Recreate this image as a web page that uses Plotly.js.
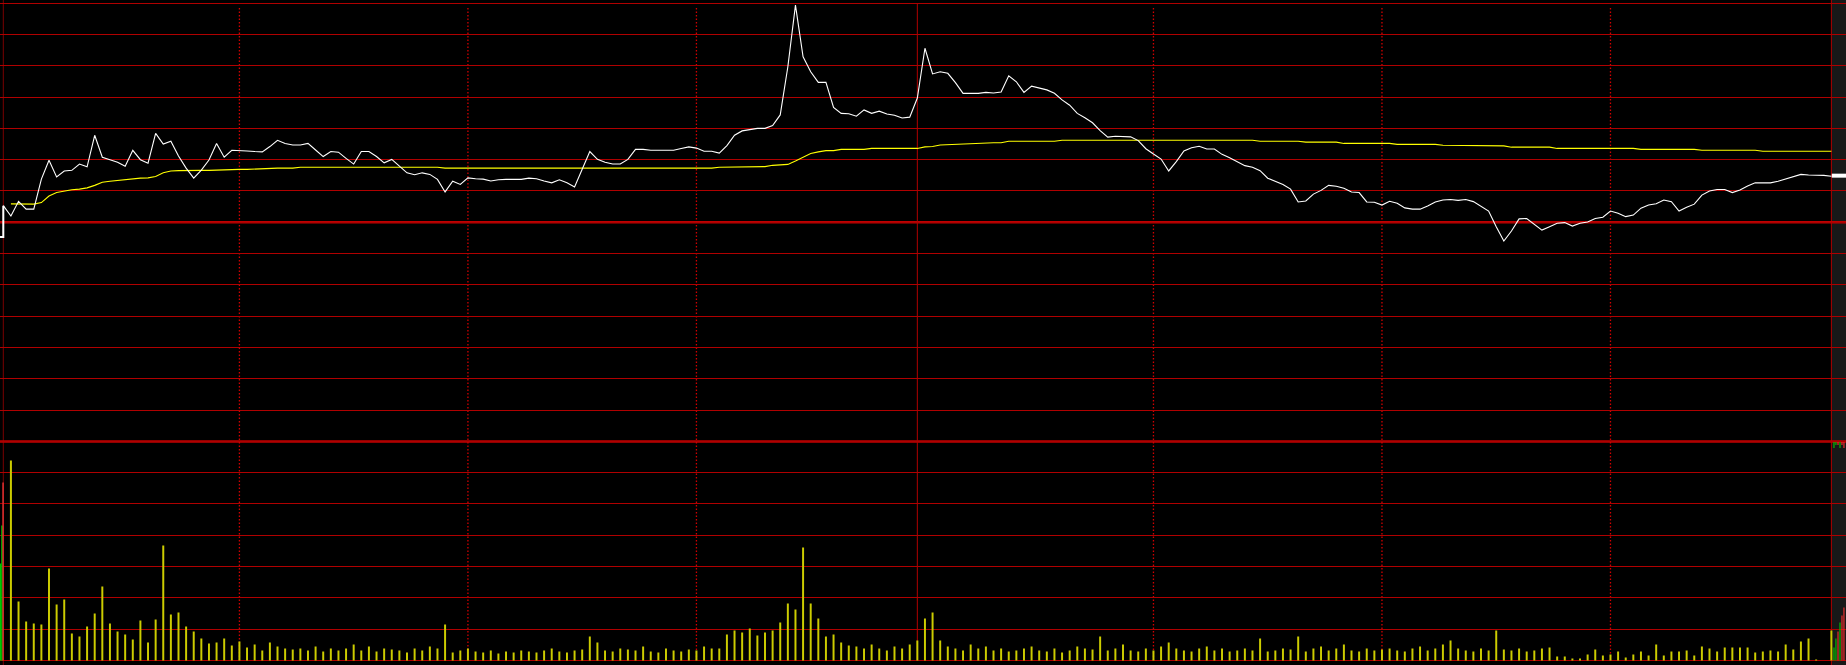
<!DOCTYPE html>
<html>
<head>
<meta charset="utf-8">
<script src="https://cdn.plot.ly/plotly-3.0.1.min.js"></script>
<style>
html,body{margin:0;padding:0;background:#000;}
#chart{width:1846px;height:665px;}
</style>
</head>
<body>
<div id="chart"></div>
<script>
// price change in grid units (one horizontal grid step = 1), per minute index 0..240
const price = [0.53,0.20,0.67,0.42,0.42,1.38,1.98,1.45,1.64,1.66,
1.86,1.77,2.78,2.08,2.00,1.92,1.79,2.30,2.00,1.89,
2.84,2.50,2.59,2.12,1.73,1.41,1.67,1.99,2.52,2.08,
2.30,2.30,2.28,2.26,2.25,2.42,2.62,2.52,2.47,2.47,
2.52,2.31,2.10,2.26,2.24,2.04,1.86,2.26,2.26,2.10,
1.90,2.01,1.78,1.58,1.52,1.58,1.53,1.37,0.97,1.31,
1.21,1.42,1.39,1.38,1.32,1.36,1.37,1.37,1.37,1.41,
1.39,1.32,1.26,1.36,1.26,1.13,1.67,2.26,2.01,1.92,
1.86,1.86,2.01,2.33,2.33,2.30,2.30,2.30,2.30,2.36,
2.41,2.37,2.27,2.27,2.21,2.45,2.78,2.92,2.97,3.00,
3.00,3.09,3.43,4.97,6.94,5.29,4.81,4.47,4.47,3.67,
3.48,3.47,3.39,3.59,3.48,3.55,3.46,3.42,3.33,3.36,
3.97,5.56,4.74,4.81,4.76,4.46,4.12,4.12,4.12,4.15,
4.13,4.16,4.68,4.49,4.15,4.35,4.28,4.23,4.12,3.91,
3.74,3.48,3.34,3.18,2.93,2.72,2.75,2.75,2.73,2.61,
2.35,2.18,2.02,1.64,1.94,2.28,2.38,2.43,2.34,2.34,
2.17,2.06,1.94,1.81,1.76,1.65,1.41,1.32,1.21,1.06,
0.65,0.68,0.90,1.02,1.18,1.15,1.09,0.97,0.95,0.65,
0.64,0.55,0.67,0.61,0.46,0.42,0.42,0.52,0.65,0.71,
0.73,0.70,0.73,0.66,0.52,0.36,-0.14,-0.60,-0.28,0.11,
0.12,-0.06,-0.25,-0.14,-0.03,-0.01,-0.12,-0.03,0.01,0.12,
0.16,0.36,0.29,0.18,0.23,0.45,0.55,0.59,0.71,0.66,
0.36,0.48,0.58,0.87,1.00,1.05,1.05,0.95,1.03,1.16,
1.26,1.26,1.26,1.31,1.38,1.44,1.53,1.51,1.51,1.50,
1.47];

// average price line
const avgPrice = [null,0.59,0.58,0.58,0.58,0.63,0.84,0.95,1.00,1.04,
1.06,1.10,1.18,1.28,1.31,1.34,1.35,1.38,1.41,1.42,
1.46,1.58,1.64,1.65,1.66,1.66,1.66,1.66,1.67,1.69,
1.69,1.69,1.69,1.70,1.73,1.73,1.73,1.73,1.73,1.76,
1.76,1.76,1.76,1.76,1.76,1.76,1.76,1.76,1.76,1.76,
1.76,1.76,1.76,1.76,1.76,1.76,1.76,1.76,1.73,1.73,
1.73,1.73,1.73,1.73,1.73,1.73,1.73,1.73,1.73,1.73,
1.73,1.73,1.73,1.73,1.73,1.73,1.73,1.73,1.73,1.73,
1.73,1.73,1.73,1.73,1.73,1.73,1.73,1.73,1.73,1.73,
1.73,1.73,1.73,1.73,1.76,1.76,1.76,1.76,1.78,1.78,
1.78,1.82,1.83,1.85,1.96,2.09,2.20,2.25,2.29,2.29,
2.33,2.33,2.33,2.33,2.36,2.36,2.36,2.36,2.36,2.36,
2.36,2.41,2.42,2.47,2.48,2.51,2.51,2.51,2.54,2.54,
2.54,2.54,2.59,2.59,2.59,2.59,2.59,2.59,2.59,2.62,
2.62,2.62,2.62,2.62,2.62,2.62,2.62,2.62,2.62,2.62,
2.62,2.62,2.62,2.62,2.62,2.62,2.62,2.62,2.62,2.62,
2.62,2.62,2.62,2.62,2.62,2.59,2.59,2.59,2.59,2.59,
2.59,2.56,2.56,2.56,2.56,2.56,2.52,2.52,2.52,2.52,
2.52,2.52,2.52,2.49,2.49,2.49,2.49,2.49,2.49,2.46,
2.46,2.46,2.46,2.46,2.46,2.46,2.44,2.44,2.40,2.40,
2.40,2.40,2.40,2.40,2.36,2.36,2.36,2.36,2.36,2.36,
2.36,2.36,2.36,2.36,2.36,2.33,2.33,2.33,2.33,2.33,
2.33,2.33,2.33,2.30,2.30,2.30,2.30,2.30,2.30,2.30,
2.30,2.27,2.27,2.27,2.27,2.27,2.27,2.27,2.27,2.27,
2.27];

// per-minute volume
const volume = [0,200,59,39,37,36,92,56,61,27,
24,34,47,74,37,29,26,21,40,18,
41,115,46,48,34,29,22,17,18,22,
15,19,13,16,10,18,14,12,11,12,
10,14,9,12,10,12,16,10,14,9,
12,11,10,8,12,10,14,12,36,8,
10,12,9,8,10,7,9,8,10,9,
8,10,12,9,8,10,11,24,18,10,
9,12,11,10,14,9,8,12,10,9,
11,10,14,12,12,26,30,28,32,25,
28,30,38,57,51,113,57,42,24,26,
18,15,14,12,16,12,10,14,12,16,
20,42,48,20,14,12,10,16,12,14,
10,12,9,10,12,14,10,9,12,8,
10,14,12,11,24,10,12,16,10,9,
12,10,14,18,12,10,9,12,14,10,
12,9,10,12,10,22,9,10,12,11,
24,9,12,14,10,12,16,10,9,12,
10,11,12,10,9,12,14,10,12,16,
20,12,10,9,12,10,30,11,10,12,
9,10,12,13,4,4,2,2,6,11,
5,6,9,3,6,9,5,16,5,9,
9,10,5,14,12,9,13,13,13,13,
8,9,10,9,16,11,19,22,1,0,
30];

// opening / closing auction marks
const openAuctionX = [-0.43, 0, 0];
const openAuctionY = [-0.47, -0.47, 0.53];
const openAuctionVolX = [-0.36, -0.17, -0.03];
const openAuctionVol = [97, 135, 178];
const openAuctionVolColor = ['#00c800', '#00c800', '#e03030'];
const closeMarkX = [240.05, 241.92];
const closeMarkY = [1.49, 1.49];
const closeAuctionX = [240.34, 240.60, 240.87, 241.13, 241.39, 241.65];
const closeAuctionVol = [13, 22, 29, 38, 45, 53];
const closeAuctionFlag = [6, 3, 3, 6, 3, 6];
const closeAuctionColor = ['#00d000', '#00d000', '#ff3030', '#00d000', '#ff3030', '#ff3030'];

const minutes = price.map((_, i) => i);

const GRID = '#b00000';
const traces = [
  {x: minutes, y: volume, type: 'bar', yaxis: 'y2', width: 0.26,
   marker: {color: '#cccc00', line: {width: 0}}, hoverinfo: 'skip'},
  {x: openAuctionVolX, y: openAuctionVol, type: 'bar', yaxis: 'y2', width: 0.2,
   marker: {color: openAuctionVolColor, line: {width: 0}}, hoverinfo: 'skip'},
  {x: closeAuctionX, y: closeAuctionVol, type: 'bar', yaxis: 'y2', width: 0.14,
   marker: {color: closeAuctionColor, line: {width: 0}}, hoverinfo: 'skip'},
  {x: closeAuctionX, y: closeAuctionFlag.map(v => -v), base: 218.6, type: 'bar', yaxis: 'y2', width: 0.14,
   marker: {color: closeAuctionColor, line: {width: 0}}, hoverinfo: 'skip'},
  {x: minutes, y: avgPrice, type: 'scatter', mode: 'lines',
   line: {color: '#ffff00', width: 1.1}, hoverinfo: 'skip'},
  {x: minutes, y: price, type: 'scatter', mode: 'lines',
   line: {color: '#ffffff', width: 1.1}, hoverinfo: 'skip'},
  {x: openAuctionX, y: openAuctionY, type: 'scatter', mode: 'lines',
   line: {color: '#ffffff', width: 2}, hoverinfo: 'skip'},
  {x: closeMarkX, y: closeMarkY, type: 'scatter', mode: 'lines',
   line: {color: '#ffffff', width: 4}, hoverinfo: 'skip'}
];

const vlines = [31, 61, 91, 151, 181, 211];
const shapes = [
  {type: 'rect', xref: 'x', yref: 'paper', x0: 240, x1: 242.5, y0: 0, y1: 1,
   fillcolor: '#181818', line: {width: 0}, layer: 'below'},
  {type: 'line', xref: 'x', yref: 'y', x0: -1, x1: 243, y0: 0, y1: 0,
   line: {color: '#c00000', width: 2.5}, layer: 'below'},
  {type: 'line', xref: 'x', yref: 'y', x0: -1, x1: 243, y0: -7, y1: -7,
   line: {color: '#c00000', width: 2.5}, layer: 'below'},
  {type: 'line', xref: 'x', yref: 'paper', x0: 0, x1: 0, y0: 0, y1: 1,
   line: {color: '#7a0000', width: 1}, layer: 'below'},
  {type: 'line', xref: 'x', yref: 'paper', x0: 240, x1: 240, y0: 0, y1: 1,
   line: {color: GRID, width: 1}, layer: 'below'},
  {type: 'line', xref: 'x', yref: 'y', x0: 120, x1: 120, y0: -14, y1: 7,
   line: {color: GRID, width: 1}, layer: 'below'}
];
vlines.forEach(v => shapes.push({type: 'line', xref: 'x', yref: 'y', x0: v, x1: v, y0: -14, y1: 6.9,
  line: {color: '#d00000', width: 1.3, dash: '1.5px,2px'}, layer: 'below'}));

const layout = {
  width: 1846, height: 665,
  margin: {l: 0, r: 0, t: 0, b: 0, pad: 0},
  paper_bgcolor: '#000000', plot_bgcolor: '#000000',
  showlegend: false,
  barmode: 'overlay',
  xaxis: {range: [-0.433, 241.92], showgrid: false, zeroline: false, showticklabels: false,
          showline: false, ticks: '', fixedrange: true},
  yaxis: {range: [-14.144, 7.102], showgrid: true, gridcolor: GRID, gridwidth: 1,
          tick0: 0, dtick: 1, zeroline: false, showticklabels: false, ticks: '', showline: false, fixedrange: true},
  yaxis2: {range: [-4.5, 660.5], overlaying: 'y', showgrid: false, zeroline: false,
           showticklabels: false, ticks: '', showline: false, fixedrange: true},
  shapes: shapes
};

Plotly.newPlot('chart', traces, layout, {staticPlot: true, displayModeBar: false});
</script>
</body>
</html>
